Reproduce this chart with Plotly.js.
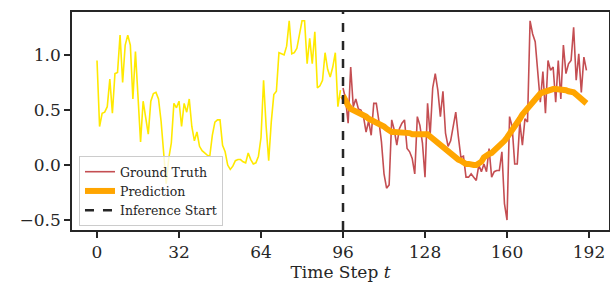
<!DOCTYPE html>
<html>
<head>
<meta charset="utf-8">
<script src="https://cdn.plot.ly/plotly-3.0.1.min.js"></script>
<style>html,body{margin:0;padding:0;background:#fff;}#chart{width:610px;height:287px;}</style>
</head>
<body>
<div id="chart"></div>
<script>
// History (context) values, t = 0..95
const historyValues = [
  0.95, 0.35, 0.47, 0.48, 0.53, 0.78, 0.47, 0.83, 0.84, 1.18,
  0.75, 1.09, 1.18, 1.09, 0.60, 1.03, 0.62, 0.21, 0.58, 0.42,
  0.28, 0.58, 0.65, 0.66, 0.60, 0.40, 0.07, -0.17, 0.06, 0.20,
  0.56, 0.52, 0.58, 0.35, 0.56, 0.48, 0.60, 0.35, 0.22, 0.30,
  0.17, 0.13, 0.11, 0.09, 0.08, 0.27, 0.39, 0.41, 0.41, 0.18,
  0.12, 0.00, -0.04, -0.01, 0.04, 0.05, 0.05, 0.03, 0.02, 0.11,
  0.05, 0.01, 0.02, 0.08, 0.25, 0.77, 0.35, 0.04, 0.39, 0.64,
  0.67, 1.02, 1.01, 1.00, 1.08, 1.31, 1.01, 1.02, 1.06, 1.18,
  1.31, 1.31, 0.92, 1.15, 0.92, 1.21, 0.70, 0.72, 0.77, 1.02,
  0.87, 0.80, 0.89, 1.02, 0.53, 0.68
];
// Ground truth over the forecast window, t = 96..191
const groundTruth = [
  0.70, 0.60, 0.38, 0.89, 0.53, 0.60, 0.51, 0.50, 0.44, 0.30,
  0.40, 0.27, 0.56, 0.56, 0.40, 0.21, -0.08, -0.21, -0.18, 0.41,
  0.32, 0.18, 0.33, 0.38, 0.41, 0.15, 0.12, 0.06, -0.08, 0.44,
  0.36, 0.20, -0.11, 0.56, 0.27, 0.70, 0.83, 0.68, 0.44, 0.67,
  0.29, 0.17, 0.22, 0.34, 0.48, 0.26, 0.07, 0.08, -0.11, -0.11,
  -0.08, -0.11, -0.14, 0.00, -0.06, 0.01, -0.06, 0.15, -0.11, -0.06,
  -0.05, -0.05, 0.12, -0.35, -0.50, 0.44, 0.35, 0.01, 0.01, 0.39,
  0.18, 0.42, 0.39, 1.31, 1.19, 1.12, 0.82, 0.57, 0.85, 0.47,
  0.95, 0.86, 0.89, 0.57, 0.95, 0.60, 1.09, 0.83, 0.92, 0.95,
  1.25, 0.77, 1.01, 0.66, 0.98, 0.86
];
// Model prediction, t = 96..191
const prediction = [
  0.63, 0.57, 0.54, 0.51, 0.50, 0.49, 0.47, 0.46, 0.45, 0.44,
  0.42, 0.41, 0.40, 0.39, 0.38, 0.37, 0.35, 0.33, 0.31, 0.30,
  0.30, 0.30, 0.30, 0.30, 0.30, 0.29, 0.29, 0.28, 0.28, 0.27,
  0.27, 0.28, 0.28, 0.28, 0.26, 0.24, 0.22, 0.20, 0.18, 0.16,
  0.15, 0.13, 0.11, 0.09, 0.07, 0.05, 0.04, 0.02, 0.01, 0.01,
  0.00, 0.00, 0.00, 0.01, 0.03, 0.07, 0.09, 0.10, 0.11, 0.13,
  0.15, 0.17, 0.19, 0.22, 0.25, 0.28, 0.31, 0.34, 0.38, 0.42,
  0.46, 0.49, 0.52, 0.55, 0.58, 0.61, 0.63, 0.65, 0.66, 0.67,
  0.68, 0.69, 0.69, 0.69, 0.69, 0.69, 0.69, 0.68, 0.67, 0.67,
  0.66, 0.64, 0.62, 0.60, 0.58, 0.56
];
const inferenceStart = 96;
const xTickVals = [0, 32, 64, 96, 128, 160, 192];
const yTickVals = [-0.5, 0.0, 0.5, 1.0];

const tHist = historyValues.map((_, i) => i);
const tFut = groundTruth.map((_, i) => inferenceStart + i);

const serif = '"DejaVu Serif", serif';
const dark = '#262626';

const traces = [
  {x: tHist, y: historyValues, type: 'scatter', mode: 'lines',
   line: {color: '#ffe900', width: 1.6}, showlegend: false, hoverinfo: 'skip'},
  {x: tFut, y: groundTruth, type: 'scatter', mode: 'lines', name: 'Ground Truth',
   line: {color: '#C44E52', width: 1.6}},
  {x: tFut, y: prediction, type: 'scatter', mode: 'lines', name: 'Prediction',
   line: {color: '#FFA500', width: 6}}
];

const layout = {
  width: 610, height: 287,
  margin: {l: 72, r: 1, t: 12, b: 57},
  paper_bgcolor: '#fff', plot_bgcolor: '#fff',
  font: {family: serif, color: dark, size: 17},
  xaxis: {
    range: [-9.76, 199.8], tickvals: xTickVals, ticks: 'outside', ticklen: 6, tickwidth: 1.8,
    tickcolor: dark, showline: true, linecolor: dark, linewidth: 1.8, mirror: true,
    showgrid: false, zeroline: false, tickfont: {family: serif, size: 17, color: dark},
    title: {text: 'Time Step <i>t</i>', font: {family: serif, size: 17, color: dark}, standoff: 4}
  },
  yaxis: {
    range: [-0.59, 1.39], tickvals: yTickVals, tickformat: '.1f', ticks: 'outside', ticklen: 6, tickwidth: 1.8,
    tickcolor: dark, showline: true, linecolor: dark, linewidth: 1.8, mirror: true,
    showgrid: false, zeroline: false, tickfont: {family: serif, size: 17, color: dark}
  },
  shapes: [{
    type: 'line', xref: 'x', yref: 'paper', x0: inferenceStart, x1: inferenceStart, y0: 0, y1: 1,
    line: {color: dark, width: 2.5, dash: 'dash'}, showlegend: true, name: 'Inference Start'
  }],
  legend: {
    x: 0.013, y: 0.018, xanchor: 'left', yanchor: 'bottom',
    bgcolor: 'rgba(255,255,255,0.8)', bordercolor: '#cccccc', borderwidth: 1,
    font: {family: serif, size: 12.5, color: dark}, itemwidth: 30, tracegroupgap: 0
  },
  showlegend: true
};

Plotly.newPlot('chart', traces, layout, {displayModeBar: false, staticPlot: true});
</script>
</body>
</html>
